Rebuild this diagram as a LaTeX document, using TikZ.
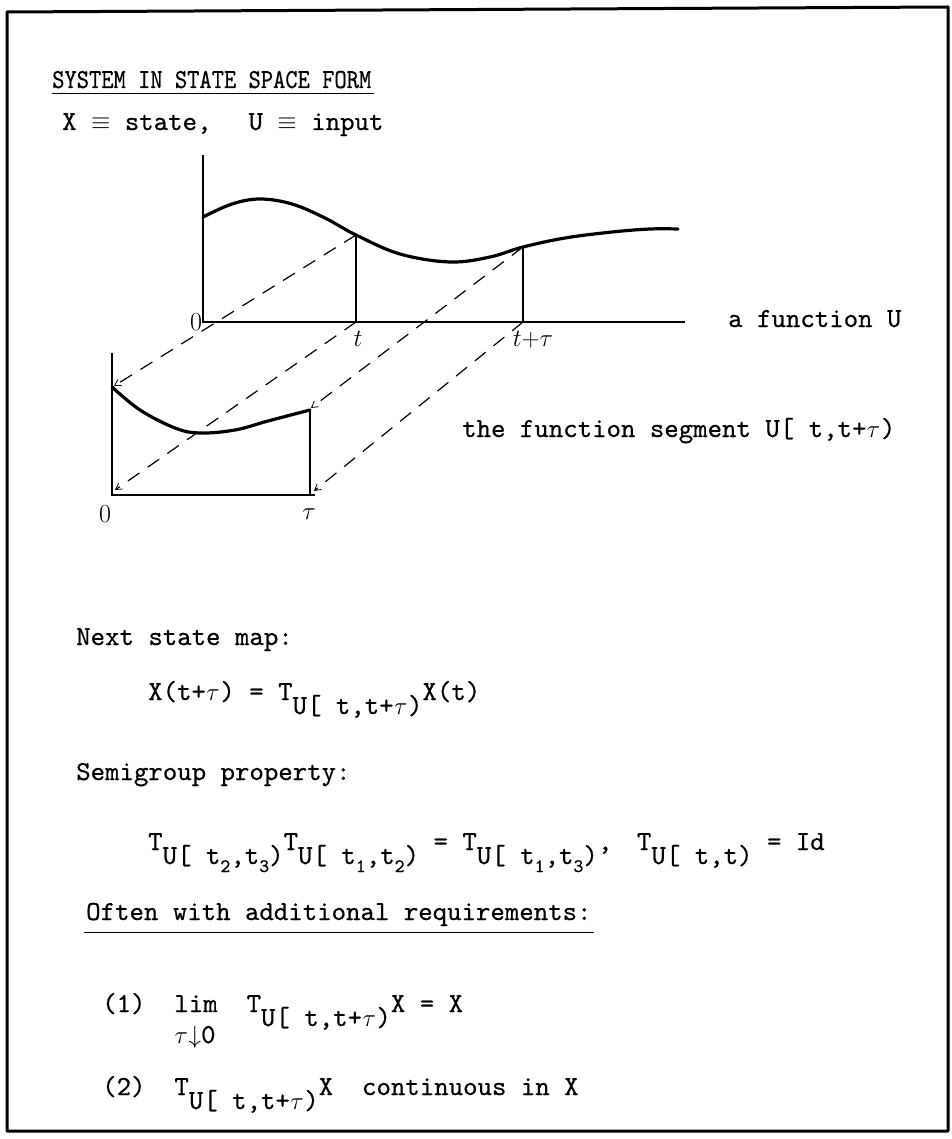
\documentclass[tikz,border=0pt]{standalone}
\usepackage{fontspec}
\usetikzlibrary{arrows.meta}
\newfontfamily\tw{lmmono10-regular.otf}[FakeBold=0.5]
\newcommand{\lo}[1]{\raisebox{-14pt}{#1}}
\newcommand{\llo}[1]{\raisebox{-8pt}{\fontsize{19}{19}\selectfont #1}}
\newcommand{\ta}{\makebox[0.525em]{$\tau$}}
\begin{document}
\begin{tikzpicture}[x=1pt,y=-1pt,
  txt/.style={anchor=base west,inner sep=0pt,font=\tw\fontsize{27.5}{31}\selectfont},
  lbl/.style={inner sep=0pt,font=\fontsize{26}{30}\selectfont},
  frame/.style={line width=3pt,line join=round},
  axis/.style={line width=2pt},
  curve/.style={line width=3.2pt,line cap=round},
  vline/.style={line width=1.5pt},
  proj/.style={line width=1.2pt,dash pattern=on 14pt off 10pt,-{Straight Barb[length=6pt,width=7pt,line width=0.8pt]}}]
\useasboundingbox (0,0) rectangle (951,1139);
% frame
\draw[frame] (7,12) -- (948,7) -- (948,1131) -- (7,1131) -- cycle;

% heading
\node[txt] (title) at (52,88) {\scalebox{0.85}[1]{SYSTEM IN STATE SPACE FORM}};
\draw[line width=1.5pt] (title.south west) ++(0,5) -- ++(322,0);
\node[txt] (defs) at (62,130) {X $\equiv$ state,\hspace{1.35em}U $\equiv$ input};

% upper graph
\coordinate (O) at (203,322);
\coordinate (Ytop) at (203,155);
\coordinate (Xend) at (685,322);
\coordinate (Pt) at (356,235);
\coordinate (Ptt) at (523,247);
\coordinate (At) at (356,322);
\coordinate (Att) at (523,322);
\draw[axis] (Ytop) -- (O) -- (Xend);
\draw[curve] plot[smooth,tension=0.6] coordinates {(203,217) (232,204) (260,199) (292,204) (325,218) (356,235) (400,254) (450,262) (490,257) (523,247) (565,238) (612,232) (650,229) (678,229)};
\draw[vline] (Pt) -- (At);
\draw[vline] (Ptt) -- (Att);
\node[lbl] (l0) at (196,322) {0};
\node[lbl] (lt) at (358,339) {$t$};
\node[lbl] (ltt) at (533,340) {$t{+}\tau$};
\node[txt] (fU) at (728,327) {a function U};

% lower graph
\coordinate (Lt) at (112,353);
\coordinate (Lb) at (112,495);
\coordinate (Rb) at (315,495);
\coordinate (Ct) at (112,387);
\coordinate (Cs) at (310,410);
\coordinate (Cb) at (310,495);
\draw[axis] (Lt) -- (Lb) -- (Rb);
\draw[vline,line width=2pt] (Cs) -- (Cb);
\draw[curve] plot[smooth,tension=0.6] coordinates {(112,387) (140,410) (175,428) (200,433) (235,430) (268,421) (310,410)};
\node[lbl] (m0) at (105,514) {0};
\node[lbl] (mt) at (309,514) {$\tau$};
\node[txt] (seg) at (462,437) {the function segment U[ t,t+\ta)};

% projections
\coordinate (Ct2) at (114,386);
\coordinate (Lb2) at (115,490);
\coordinate (Cs2) at (311,408);
\coordinate (Cb2) at (314,491);
\draw[proj] (Pt) -- (Ct2);
\draw[proj] (At) -- (Lb2);
\draw[proj] (Ptt) -- (Cs2);
\draw[proj] (Att) -- (Cb2);

% next state map
\node[txt] (nsm) at (76,645) {Next state map:};
\node[txt] (eq1) at (148,700) {X(t+\ta) = T\lo{U[ t,t+\ta)}X(t)};
\node[txt] (sgp) at (76,780) {Semigroup property:};
\node[txt] (eq2) at (148,850) {T\lo{U[ t\llo{2},t\llo{3})}T\lo{U[ t\llo{1},t\llo{2})} = T\lo{U[ t\llo{1},t\llo{3})},\hspace{0.9em}T\lo{U[ t,t)} = Id};

% requirements
\node[txt] (often) at (86,920) {Often with additional requirements:};
\draw[line width=1.5pt] (often.south west) ++(-2,6) -- ++(510,0);
\node[txt] (r1) at (102,1012) {(1)\hspace{1.05em}lim\hspace{1.05em}T\lo{U[ t,t+\ta)}X = X};
\node[txt] (r1b) at (174,1043) {\ta{}$\downarrow$0};
\node[txt] (r2) at (102,1095) {(2)\hspace{1.05em}T\lo{U[ t,t+\ta)}X\hspace{1.05em}continuous in X};
\end{tikzpicture}
\end{document}
